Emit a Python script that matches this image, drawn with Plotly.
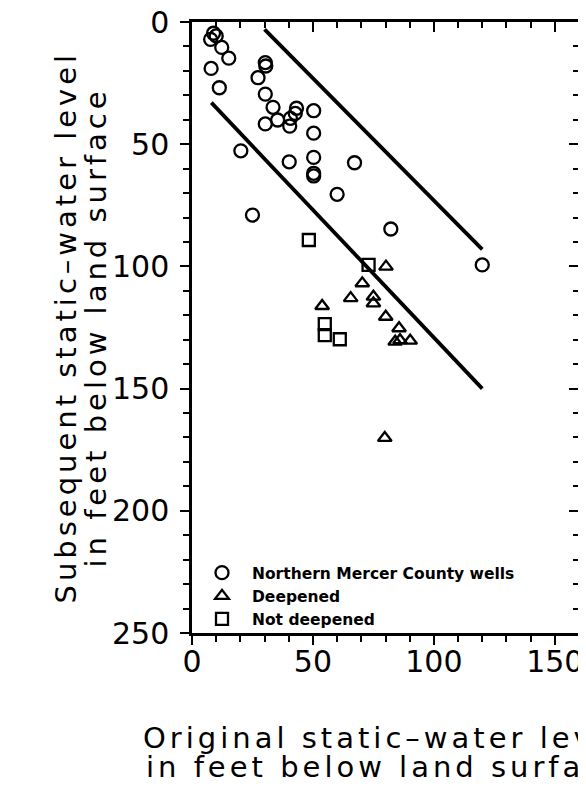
import plotly.graph_objects as go

# Northern Mercer County wells (circles)
circ_x = [7.7, 8.9, 10.0, 12.3, 15.2, 7.9, 11.3, 30.3, 30.5, 27.3, 30.3, 33.5, 35.4, 30.3,
          40.4, 40.7, 43.2, 42.7, 50.3, 50.3, 20.2, 40.2, 50.3, 50.3, 50.3, 67.2, 60.0,
          25.0, 82.2, 120.0]
circ_y = [7.1, 4.6, 5.7, 10.4, 14.8, 19.0, 26.9, 16.6, 18.0, 22.8, 29.5, 34.9, 40.1, 41.7,
          42.6, 39.4, 35.3, 37.4, 36.3, 45.5, 52.7, 57.2, 55.4, 61.9, 63.0, 57.6, 70.5,
          79.0, 84.7, 99.4]

# Deepened (triangles)
tri_x = [80.2, 70.4, 65.6, 75.0, 75.0, 53.8, 80.1, 85.6, 84.0, 86.0, 90.2, 79.7]
tri_y = [100.1, 106.9, 113.0, 112.4, 115.1, 116.2, 120.6, 125.3, 130.8, 130.2, 130.4, 170.2]

# Not deepened (squares)
sq_x = [48.3, 73.0, 54.9, 54.9, 61.1]
sq_y = [89.2, 99.4, 123.6, 128.1, 129.8]

# Envelope lines
upper_x = [30, 120]
upper_y = [3, 93]
lower_x = [8, 120]
lower_y = [33, 150]

x_ticks = [0, 50, 100, 150]
y_ticks = [0, 50, 100, 150, 200, 250]

x_title = ["Original static–water level", "in feet below land surface"]
y_title = ["Subsequent static–water level", "in feet below land surface"]

FONT = "DejaVu Sans"
X_RANGE = [0, 160]
Y_RANGE = [250, 0]


def spaced(t, px):
    return f'<span style="letter-spacing:{px}px">{t}</span>'


fig = go.Figure()
fig.add_trace(go.Scatter(x=upper_x, y=upper_y, mode="lines",
                         line=dict(color="black", width=3.8), showlegend=False, hoverinfo="skip"))
fig.add_trace(go.Scatter(x=lower_x, y=lower_y, mode="lines",
                         line=dict(color="black", width=3.8), showlegend=False, hoverinfo="skip"))
fig.add_trace(go.Scatter(x=circ_x, y=circ_y, mode="markers", name="Northern Mercer County wells",
                         marker=dict(symbol="circle-open", size=13, color="black",
                                     line=dict(width=2.3, color="black"))))
fig.add_trace(go.Scatter(x=tri_x, y=tri_y, mode="markers", name="Deepened",
                         marker=dict(symbol="triangle-up-open", size=12, color="black",
                                     line=dict(width=2.3, color="black"))))
fig.add_trace(go.Scatter(x=sq_x, y=sq_y, mode="markers", name="Not deepened",
                         marker=dict(symbol="square-open", size=12, color="black",
                                     line=dict(width=2.3, color="black"))))
# invisible helper traces so that the framing axes (top, right, bottom ticks) are drawn
fig.add_trace(go.Scatter(x=upper_x, y=upper_y, xaxis="x2", yaxis="y2", mode="lines",
                         line=dict(width=0), opacity=0, showlegend=False, hoverinfo="skip"))
fig.add_trace(go.Scatter(x=upper_x, y=upper_y, xaxis="x3", yaxis="y2", mode="lines",
                         line=dict(width=0), opacity=0, showlegend=False, hoverinfo="skip"))

axis_common = dict(showgrid=False, zeroline=False, showline=True, linecolor="black",
                   linewidth=2.5, tickcolor="black", tickwidth=2, automargin=False)


def minor(direction):
    return dict(dtick=10, tick0=0, ticks=direction, ticklen=6, tickcolor="black", tickwidth=2)


fig.update_layout(
    width=586, height=789,
    margin=dict(l=184, r=15, t=14, b=164, autoexpand=False),
    paper_bgcolor="white", plot_bgcolor="white",
    font=dict(family=FONT, color="black"),
    xaxis=dict(range=X_RANGE, tickvals=x_ticks, ticks="", tickfont=dict(size=30),
               ticklabelstandoff=0, ticklabeloverflow="allow", **axis_common),
    xaxis3=dict(range=X_RANGE, overlaying="x", side="bottom", matches="x", tickvals=x_ticks,
                ticks="outside", ticklen=9, showticklabels=False, minor=minor("outside"),
                **axis_common),
    yaxis=dict(range=Y_RANGE, tickvals=y_ticks, ticks="outside", ticklen=9,
               tickfont=dict(size=30), ticklabelstandoff=5, ticklabeloverflow="allow",
               minor=minor("outside"), **axis_common),
    xaxis2=dict(range=X_RANGE, overlaying="x", side="top", matches="x", tickvals=x_ticks,
                ticks="inside", ticklen=10, showticklabels=False, minor=minor("inside"),
                **axis_common),
    yaxis2=dict(range=Y_RANGE, overlaying="y", side="right", matches="y", tickvals=y_ticks,
                ticks="inside", ticklen=10, showticklabels=False, minor=minor("inside"),
                **axis_common),
    legend=dict(x=0.0, y=-0.005, xanchor="left", yanchor="bottom", bgcolor="rgba(0,0,0,0)",
                font=dict(size=15.5, family=FONT, weight="bold"), itemwidth=50,
                tracegroupgap=0),
    showlegend=True,
    annotations=[
        dict(text=spaced(x_title[0], 4), xref="paper", yref="paper", x=0.5, y=0,
             xanchor="center", yanchor="middle", yshift=-105, showarrow=False,
             font=dict(size=29, family=FONT)),
        dict(text=spaced(x_title[1], 4), xref="paper", yref="paper", x=0.5, y=0,
             xanchor="center", yanchor="middle", yshift=-134, showarrow=False,
             font=dict(size=29, family=FONT)),
        dict(text=spaced(y_title[0], 4), xref="paper", yref="paper", x=0, y=0.5,
             xanchor="center", yanchor="middle", xshift=-127, textangle=-90, showarrow=False,
             font=dict(size=29, family=FONT)),
        dict(text=spaced(y_title[1], 4), xref="paper", yref="paper", x=0, y=0.5,
             xanchor="center", yanchor="middle", xshift=-97, textangle=-90, showarrow=False,
             font=dict(size=29, family=FONT)),
    ],
)

fig.write_html("out.html")
